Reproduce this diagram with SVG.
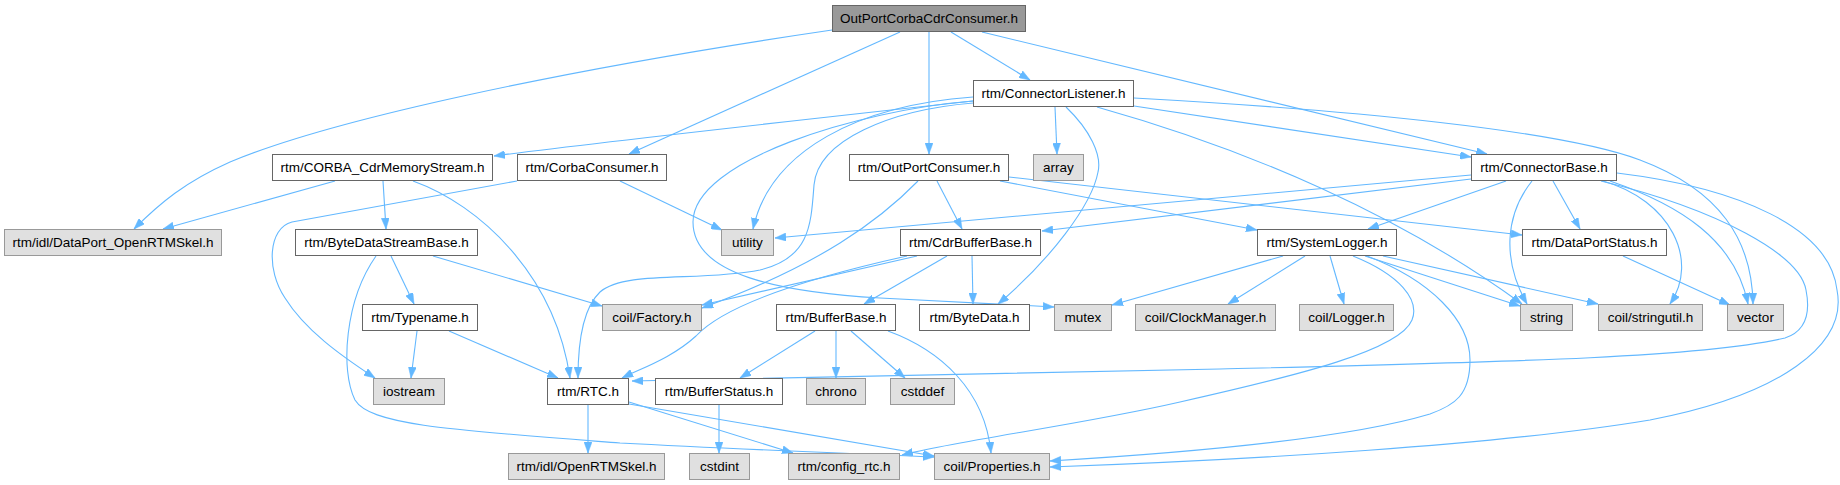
<svg xmlns="http://www.w3.org/2000/svg" width="1840" height="485" viewBox="0 0 1840 485">
<style>
text{font-family:"Liberation Sans",Arial,sans-serif;font-size:13.5px;text-anchor:middle;fill:#000}
.n rect{fill:#fff;stroke:#666;stroke-width:1}
.g rect{fill:#e0e0e0;stroke:#999;stroke-width:1}
.r rect{fill:#999;stroke:#666;stroke-width:1}
#edges path{fill:none;stroke:#63b8ff;stroke-width:1.1;marker-end:url(#a)}
</style>
<defs>
<marker id="a" viewBox="0 0 11 8" refX="11" refY="4" markerWidth="11" markerHeight="8" orient="auto" markerUnits="userSpaceOnUse">
<path d="M0,0 L11,4 L0,8 z" fill="#63b8ff" stroke="#63b8ff" stroke-width="0.5"/>
</marker>
</defs>
<rect width="1840" height="485" fill="#fff"/>
<g id="edges">
<path d="M832,30 C560,70 330,120 230,162 C185,182 160,203 134,229"/>
<path d="M900,32 L629,154"/>
<path d="M929,32 L929,154"/>
<path d="M951,32 L1030,80"/>
<path d="M982,32 L1487,154"/>
<path d="M973,101 C800,120 600,142 494,156"/>
<path d="M973,97 C860,105 770,150 753,229"/>
<path d="M973,101 C860,110 693,160 693,222 C693,275 780,292 880,298 C950,302 1000,304 1054,307"/>
<path d="M973,103 C890,110 818,140 814,185 C811,225 810,258 760,270 C700,282 625,270 600,292 C583,308 578,340 578,378"/>
<path d="M1055,107 L1057,154"/>
<path d="M1066,107 C1090,130 1102,155 1098,172 C1092,205 1050,260 998,304"/>
<path d="M1097,107 C1250,150 1400,215 1522,304"/>
<path d="M1134,106 L1471,157"/>
<path d="M1134,98 C1350,110 1560,130 1640,160 C1720,190 1752,240 1753,304"/>
<path d="M1471,175 L775,238"/>
<path d="M1471,179 L1042,231"/>
<path d="M1506,181 L1368,229"/>
<path d="M1532,181 C1505,215 1502,260 1527,304"/>
<path d="M1553,181 L1580,229"/>
<path d="M1603,181 C1670,200 1700,260 1670,304"/>
<path d="M1610,181 C1680,205 1735,240 1748,304"/>
<path d="M1601,181 C1720,210 1800,255 1806,290 C1812,320 1800,333 1785,338 C1700,358 1500,362 1220,369 L632,381"/>
<path d="M1617,173 C1740,188 1830,228 1837,290 C1848,345 1780,395 1650,420 C1500,445 1250,460 1050,467"/>
<path d="M1283,256 L1112,305"/>
<path d="M1305,256 L1228,304"/>
<path d="M1330,256 L1344,304"/>
<path d="M1365,256 L1520,306"/>
<path d="M1383,256 L1598,304"/>
<path d="M1353,256 C1400,275 1420,300 1412,320 C1400,350 1300,375 1180,402 C1080,425 960,440 902,455"/>
<path d="M1367,256 C1430,280 1470,320 1470,360 C1470,395 1455,405 1430,414 C1350,438 1200,452 1050,461"/>
<path d="M937,181 L962,229"/>
<path d="M918,181 C880,220 820,265 702,308"/>
<path d="M1000,181 L1257,230"/>
<path d="M1009,177 L1522,235"/>
<path d="M947,256 L864,304"/>
<path d="M972,256 L973,304"/>
<path d="M917,256 L702,305"/>
<path d="M907,256 C790,282 722,308 696,336 C672,358 642,368 622,378"/>
<path d="M391,256 L414,304"/>
<path d="M433,256 L602,306"/>
<path d="M376,256 C345,300 340,370 355,400 C370,425 450,430 620,443 C750,450 850,453 934,457"/>
<path d="M335,181 L163,229"/>
<path d="M383,181 L386,229"/>
<path d="M413,181 C480,205 555,275 570,378"/>
<path d="M517,181 L292,222 C268,228 266,270 285,298 C305,330 340,355 375,378"/>
<path d="M620,181 L722,230"/>
<path d="M417,331 L411,378"/>
<path d="M449,331 L558,378"/>
<path d="M588,405 L588,453"/>
<path d="M629,402 L793,453"/>
<path d="M629,404 L934,456"/>
<path d="M815,331 L740,378"/>
<path d="M836,331 L836,378"/>
<path d="M851,331 L905,378"/>
<path d="M888,331 C940,350 985,390 991,453"/>
<path d="M719,405 L719,453"/>
<path d="M1623,256 L1730,305"/>
</g>
<g id="n0" class="r"><rect x="832.5" y="5.5" width="193" height="26"/><text x="929" y="23">OutPortCorbaCdrConsumer.h</text></g>
<g id="n1" class="n"><rect x="973.5" y="80.5" width="160" height="26"/><text x="1053.5" y="98">rtm/ConnectorListener.h</text></g>
<g id="n2" class="n"><rect x="272.5" y="154.5" width="220" height="26"/><text x="382.5" y="172">rtm/CORBA_CdrMemoryStream.h</text></g>
<g id="n3" class="n"><rect x="517.5" y="154.5" width="149" height="26"/><text x="592" y="172">rtm/CorbaConsumer.h</text></g>
<g id="n4" class="n"><rect x="849.5" y="154.5" width="159" height="26"/><text x="929" y="172">rtm/OutPortConsumer.h</text></g>
<g id="n5" class="g"><rect x="1033.5" y="154.5" width="50" height="26"/><text x="1058.5" y="172">array</text></g>
<g id="n6" class="n"><rect x="1471.5" y="154.5" width="145" height="26"/><text x="1544" y="172">rtm/ConnectorBase.h</text></g>
<g id="n7" class="g"><rect x="4.5" y="229.5" width="217" height="26"/><text x="113" y="247">rtm/idl/DataPort_OpenRTMSkel.h</text></g>
<g id="n8" class="n"><rect x="295.5" y="229.5" width="182" height="26"/><text x="386.5" y="247">rtm/ByteDataStreamBase.h</text></g>
<g id="n9" class="g"><rect x="721.5" y="229.5" width="52" height="26"/><text x="747.5" y="247">utility</text></g>
<g id="n10" class="n"><rect x="900.5" y="229.5" width="140" height="26"/><text x="970.5" y="247">rtm/CdrBufferBase.h</text></g>
<g id="n11" class="n"><rect x="1257.5" y="229.5" width="139" height="26"/><text x="1327" y="247">rtm/SystemLogger.h</text></g>
<g id="n12" class="n"><rect x="1522.5" y="229.5" width="144" height="26"/><text x="1594.5" y="247">rtm/DataPortStatus.h</text></g>
<g id="n13" class="n"><rect x="362.5" y="304.5" width="115" height="26"/><text x="420" y="322">rtm/Typename.h</text></g>
<g id="n14" class="g"><rect x="602.5" y="304.5" width="99" height="26"/><text x="652" y="322">coil/Factory.h</text></g>
<g id="n15" class="n"><rect x="776.5" y="304.5" width="119" height="26"/><text x="836" y="322">rtm/BufferBase.h</text></g>
<g id="n16" class="n"><rect x="919.5" y="304.5" width="110" height="26"/><text x="974.5" y="322">rtm/ByteData.h</text></g>
<g id="n17" class="g"><rect x="1054.5" y="304.5" width="57" height="26"/><text x="1083" y="322">mutex</text></g>
<g id="n18" class="g"><rect x="1135.5" y="304.5" width="140" height="26"/><text x="1205.5" y="322">coil/ClockManager.h</text></g>
<g id="n19" class="g"><rect x="1299.5" y="304.5" width="94" height="26"/><text x="1346.5" y="322">coil/Logger.h</text></g>
<g id="n20" class="g"><rect x="1520.5" y="304.5" width="52" height="26"/><text x="1546.5" y="322">string</text></g>
<g id="n21" class="g"><rect x="1598.5" y="304.5" width="104" height="26"/><text x="1650.5" y="322">coil/stringutil.h</text></g>
<g id="n22" class="g"><rect x="1727.5" y="304.5" width="56" height="26"/><text x="1755.5" y="322">vector</text></g>
<g id="n23" class="g"><rect x="373.5" y="378.5" width="71" height="26"/><text x="409" y="396">iostream</text></g>
<g id="n24" class="n"><rect x="547.5" y="378.5" width="81" height="26"/><text x="588" y="396">rtm/RTC.h</text></g>
<g id="n25" class="n"><rect x="655.5" y="378.5" width="127" height="26"/><text x="719" y="396">rtm/BufferStatus.h</text></g>
<g id="n26" class="g"><rect x="806.5" y="378.5" width="59" height="26"/><text x="836" y="396">chrono</text></g>
<g id="n27" class="g"><rect x="890.5" y="378.5" width="64" height="26"/><text x="922.5" y="396">cstddef</text></g>
<g id="n28" class="g"><rect x="508.5" y="453.5" width="156" height="26"/><text x="586.5" y="471">rtm/idl/OpenRTMSkel.h</text></g>
<g id="n29" class="g"><rect x="689.5" y="453.5" width="60" height="26"/><text x="719.5" y="471">cstdint</text></g>
<g id="n30" class="g"><rect x="788.5" y="453.5" width="111" height="26"/><text x="844" y="471">rtm/config_rtc.h</text></g>
<g id="n31" class="g"><rect x="934.5" y="453.5" width="115" height="26"/><text x="992" y="471">coil/Properties.h</text></g>
</svg>
